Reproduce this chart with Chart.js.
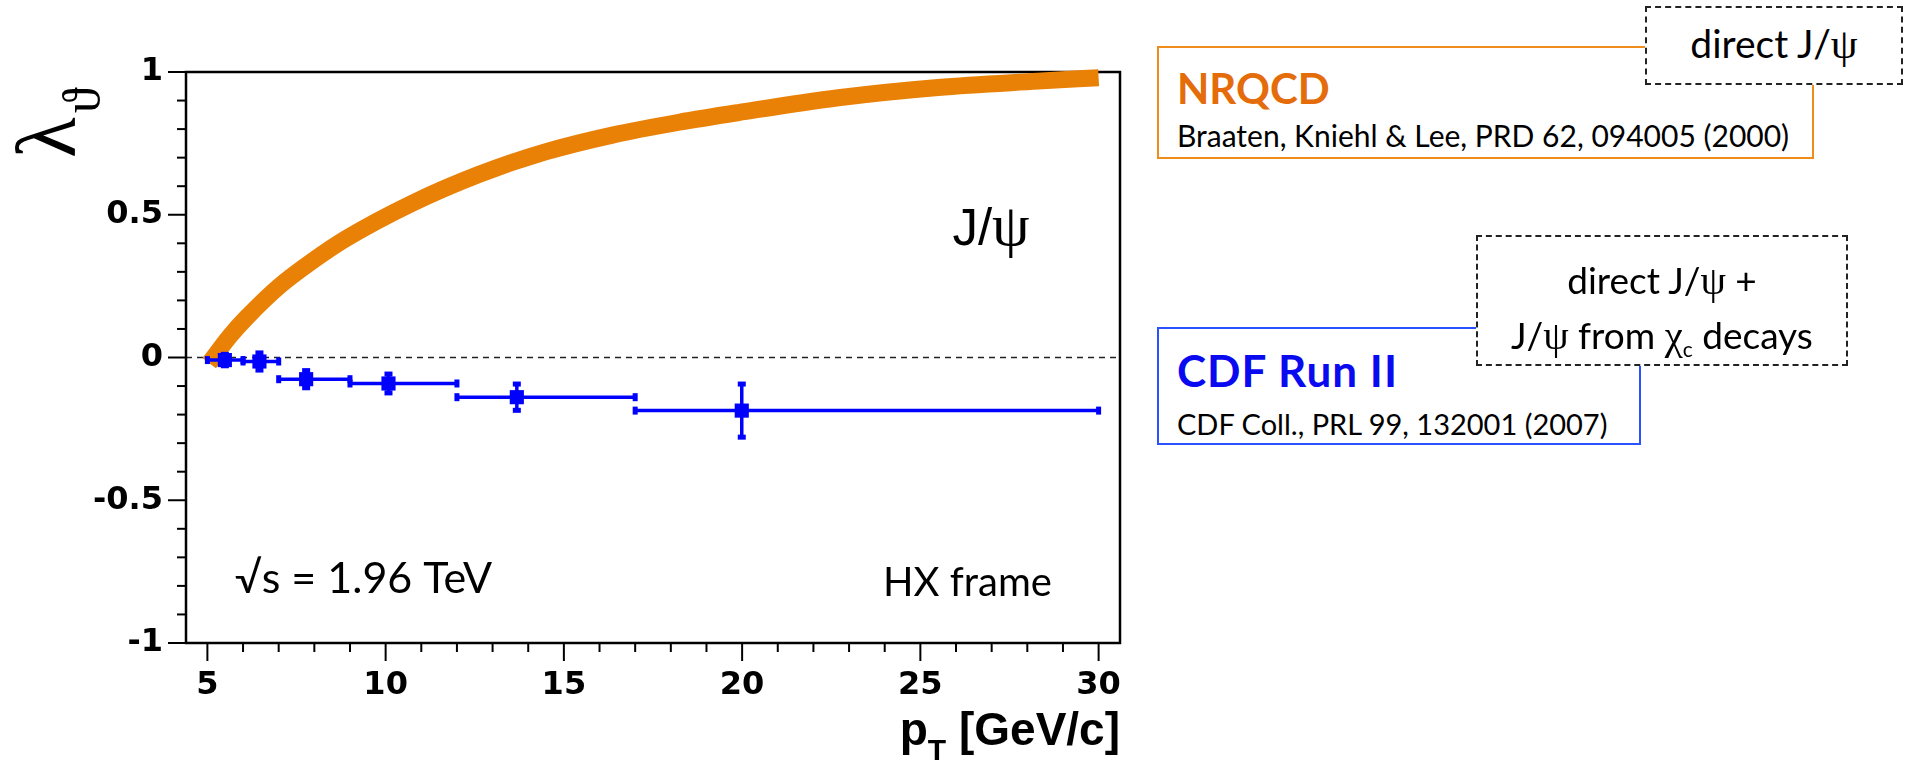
<!DOCTYPE html>
<html>
<head>
<meta charset="utf-8">
<title>J/psi polarization, CDF Run II vs NRQCD</title>
<script src="https://cdn.jsdelivr.net/npm/chart.js@4.4.1/dist/chart.umd.min.js"></script>
<style>
  body { margin: 0; background: #fff; }
  #wrap { position: relative; width: 1913px; height: 768px; font-family: Lato, "Open Sans", sans-serif; }
  #wrap canvas { position: absolute; left: 0; top: 0; }
  .box { position: absolute; box-sizing: border-box; background: #fff; }
  .solid-orange { border: 2px solid #f08c1c; }
  .solid-blue { border: 2px solid #2a52ff; }
  .dashed { border: 2px dashed #222; }
  .lbl { position: absolute; white-space: nowrap; color: #000; }
  .center { text-align: center; }
  .greek { font-family: "Liberation Serif", "DejaVu Serif", serif; font-size: 1.1em; }
</style>
</head>
<body>
<div id="wrap">
  <canvas id="lambdaChart"></canvas>

  <div class="box solid-orange" style="left:1157px;top:46px;width:657px;height:113px"></div>
  <div class="lbl" style="left:1177px;top:67px;font-size:42px;line-height:42px;font-weight:bold;color:#e46c0a">NRQCD</div>
  <div class="lbl" style="left:1177px;top:120px;font-size:30px;line-height:30px">Braaten, Kniehl &amp; Lee, PRD 62, 094005 (2000)</div>
  <div class="box dashed" style="left:1645px;top:6px;width:258px;height:79px"></div>
  <div class="lbl center" style="left:1645px;width:258px;top:24px;font-size:39px;line-height:39px">direct J/<span class="greek">ψ</span></div>

  <div class="box solid-blue" style="left:1157px;top:327px;width:484px;height:118px"></div>
  <div class="lbl" style="left:1177px;top:348px;font-size:44px;line-height:44px;font-weight:bold;letter-spacing:1px;color:#0a0af0">CDF Run II</div>
  <div class="lbl" style="left:1177px;top:409px;font-size:29px;line-height:29px">CDF Coll., PRL 99, 132001 (2007)</div>
  <div class="box dashed" style="left:1476px;top:235px;width:372px;height:131px"></div>
  <div class="lbl center" style="left:1476px;width:372px;top:261px;font-size:37px;line-height:37px">direct J/<span class="greek">ψ</span> +</div>
  <div class="lbl center" style="left:1476px;width:372px;top:316px;font-size:37px;line-height:37px">J/<span class="greek">ψ</span> from <span class="greek">χ</span><sub style="font-size:21px">c</sub> decays</div>
</div>

<script>
// NRQCD prediction for direct J/psi (band centre)
const ptCurve = [5.05, 5.17, 5.63, 6.1, 7.02, 7.97, 8.87, 10.74, 12.61, 14.48, 16.36, 18.23, 19.9, 22.7, 25.5, 28.3, 30.0];
const lambdaCurve = [-0.02, 0.0, 0.075, 0.14, 0.25, 0.34, 0.415, 0.54, 0.641, 0.72, 0.779, 0.824, 0.858, 0.91, 0.946, 0.968, 0.98];

// CDF Run II measurement, HX frame
const ptData = [5.49, 6.46, 7.77, 10.08, 13.68, 19.99];
const lambdaData = [-0.009, -0.014, -0.076, -0.091, -0.139, -0.186];
const ptLow = [5, 6, 7, 9, 12, 17];
const ptHigh = [6, 7, 9, 12, 17, 30];
const lambdaErr = [0.02, 0.03, 0.03, 0.033, 0.046, 0.093];

const yMajor = [-1, -0.5, 0, 0.5, 1];
const xMajor = [5, 10, 15, 20, 25, 30];

const isMajor = (v, list) => list.some(m => Math.abs(m - v) < 1e-6);

const line = (ctx, x1, y1, x2, y2) => {
    ctx.beginPath();
    ctx.moveTo(x1, y1);
    ctx.lineTo(x2, y2);
    ctx.stroke();
};

const plotDecor = {
    id: 'plotDecor',
    beforeDatasetsDraw(chart) {
        const { ctx, chartArea: a, scales: { x, y } } = chart;
        ctx.save();
        // dashed reference at zero
        ctx.strokeStyle = '#222';
        ctx.lineWidth = 1.5;
        ctx.setLineDash([6, 5]);
        const y0 = y.getPixelForValue(0);
        line(ctx, a.left, y0, a.right, y0);
        ctx.setLineDash([]);

        // frame
        ctx.strokeStyle = '#000';
        ctx.lineWidth = 2.5;
        ctx.strokeRect(a.left, a.top, a.right - a.left, a.bottom - a.top);

        // tick marks, outside the frame
        ctx.lineWidth = 2;
        y.ticks.forEach(t => {
            const len = isMajor(t.value, yMajor) ? 18 : 9;
            const py = y.getPixelForValue(t.value);
            line(ctx, a.left - len, py, a.left, py);
        });
        x.ticks.forEach(t => {
            const len = isMajor(t.value, xMajor) ? 18 : 9;
            const px = x.getPixelForValue(t.value);
            line(ctx, px, a.bottom, px, a.bottom + len);
        });
        ctx.restore();
    },
    beforeDatasetDraw(chart, args) {
        if (args.index !== 1) return;
        const { ctx, scales: { x, y } } = chart;
        ctx.save();
        ctx.strokeStyle = '#0000ff';
        ctx.fillStyle = '#0000ff';
        ctx.lineWidth = 3.5;
        ptData.forEach((pt, i) => {
            const cx = x.getPixelForValue(pt);
            const cy = y.getPixelForValue(lambdaData[i]);
            const xl = x.getPixelForValue(ptLow[i]);
            const xr = x.getPixelForValue(ptHigh[i]);
            const yt = y.getPixelForValue(lambdaData[i] + lambdaErr[i]);
            const yb = y.getPixelForValue(lambdaData[i] - lambdaErr[i]);
            line(ctx, xl, cy, xr, cy);
            line(ctx, cx, yt, cx, yb);
            ctx.fillRect(xl - 2.5, cy - 4, 5, 8);
            ctx.fillRect(xr - 2.5, cy - 4, 5, 8);
            ctx.fillRect(cx - 4, yt - 2.5, 8, 5);
            ctx.fillRect(cx - 4, yb - 2.5, 8, 5);
        });
        ctx.restore();
    },
    afterDraw(chart) {
        const { ctx, chartArea: a, scales: { x, y } } = chart;
        ctx.save();
        ctx.fillStyle = '#000';
        ctx.textBaseline = 'alphabetic';

        // J/psi label
        ctx.textAlign = 'left';
        ctx.font = '51px "Liberation Sans", Arial, sans-serif';
        let px = x.getPixelForValue(25.9);
        const py = y.getPixelForValue(0.394);
        ctx.fillText('J/', px, py);
        px += ctx.measureText('J/').width;
        ctx.font = '60px "Liberation Serif", "DejaVu Serif", serif';
        ctx.fillText('ψ', px, py);

        // energy and frame
        ctx.font = '43px Lato, "Open Sans", sans-serif';
        ctx.fillText('√s = 1.96 TeV', x.getPixelForValue(5.77), y.getPixelForValue(-0.826));
        ctx.font = '40px Lato, "Open Sans", sans-serif';
        ctx.textAlign = 'right';
        ctx.fillText('HX frame', x.getPixelForValue(28.69), y.getPixelForValue(-0.835));

        // x title: p_T [GeV/c]
        ctx.textAlign = 'left';
        const big = 'bold 46px "Liberation Sans", Arial, sans-serif';
        const small = 'bold 30px "Liberation Sans", Arial, sans-serif';
        ctx.font = big;
        const wp = ctx.measureText('p').width;
        const wRest = ctx.measureText(' [GeV/c]').width;
        ctx.font = small;
        const wT = ctx.measureText('T').width;
        const sx = a.right - wRest - wT - wp;
        ctx.font = big;
        ctx.fillText('p', sx, 745);
        ctx.font = small;
        ctx.fillText('T', sx + wp, 760);
        ctx.font = big;
        ctx.fillText(' [GeV/c]', sx + wp + wT, 745);

        // y title: lambda_theta, rotated
        ctx.translate(75, 158);
        ctx.rotate(-Math.PI / 2);
        ctx.font = '84px "Liberation Serif", "DejaVu Serif", serif';
        ctx.fillText('λ', 0, 0);
        const wl = ctx.measureText('λ').width;
        ctx.font = '52px "Liberation Serif", "DejaVu Serif", serif';
        ctx.fillText('ϑ', wl + 4, 24);
        ctx.restore();
    }
};

const tickFont = { family: 'DejaVu Sans', weight: 'bold', size: 32 };

new Chart(document.getElementById('lambdaChart'), {
    type: 'line',
    data: {
        datasets: [
            {
                label: 'NRQCD',
                data: ptCurve.map((pt, i) => ({ x: pt, y: lambdaCurve[i] })),
                borderColor: '#ea8107',
                borderWidth: 17,
                borderCapStyle: 'butt',
                pointRadius: 0,
                cubicInterpolationMode: 'monotone',
                fill: false,
                clip: false,
                order: 2
            },
            {
                label: 'CDF Run II',
                data: ptData.map((pt, i) => ({ x: pt, y: lambdaData[i] })),
                showLine: false,
                pointStyle: 'rect',
                pointRadius: 10,
                backgroundColor: '#0000ff',
                borderWidth: 0,
                order: 1
            }
        ]
    },
    options: {
        responsive: true,
        maintainAspectRatio: false,
        animation: false,
        events: [],
        layout: { padding: { left: 0, top: 72, right: 793, bottom: 0 } },
        plugins: { legend: { display: false }, tooltip: { enabled: false } },
        scales: {
            x: {
                type: 'linear',
                min: 4.4,
                max: 30.6,
                afterFit: s => { s.height = 125; },
                grid: { display: false, drawTicks: true, tickLength: 18 },
                border: { display: false },
                ticks: {
                    stepSize: 1,
                    includeBounds: false,
                    autoSkip: false,
                    maxRotation: 0,
                    padding: 5,
                    color: '#000',
                    font: tickFont,
                    callback: v => isMajor(v, xMajor) ? String(v) : ''
                }
            },
            y: {
                min: -1,
                max: 1,
                afterFit: s => { s.width = 186; },
                grid: { display: false, drawTicks: true, tickLength: 18 },
                border: { display: false },
                ticks: {
                    stepSize: 0.1,
                    autoSkip: false,
                    padding: 5,
                    color: '#000',
                    font: tickFont,
                    callback: v => isMajor(v, yMajor) ? String(v) : ''
                }
            }
        }
    },
    plugins: [plotDecor]
});
</script>
</body>
</html>
